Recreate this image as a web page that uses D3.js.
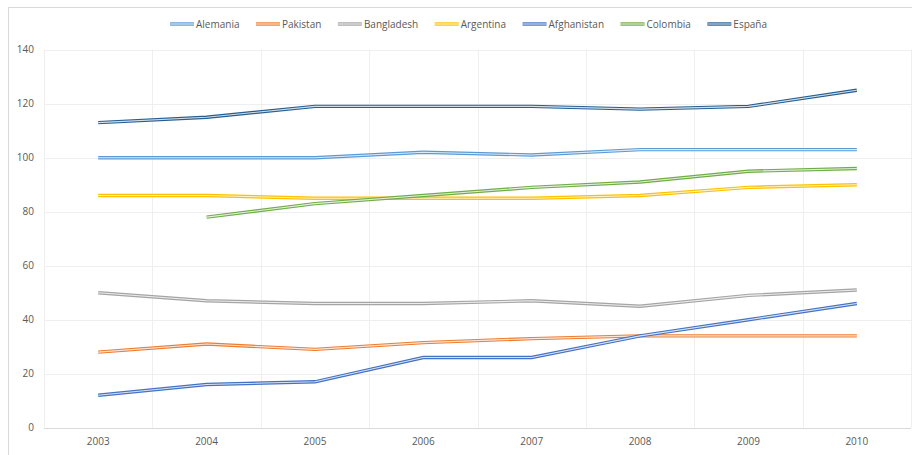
<!DOCTYPE html>
<html>
<head>
<meta charset="utf-8">
<script src="https://cdn.jsdelivr.net/npm/d3@7"></script>
<style>
  body { margin: 0; background: #fff; }
  text { font-family: "Open Sans", "Liberation Sans", sans-serif; fill: #595959; font-size: 10px; }
</style>
</head>
<body>
<script>
// data
let years = [2003, 2004, 2005, 2006, 2007, 2008, 2009, 2010];
let yTicks = [0, 20, 40, 60, 80, 100, 120, 140];
let seriesNames = ["Alemania", "Pakistan", "Bangladesh", "Argentina", "Afghanistan", "Colombia", "España"];
let colors = ["#5B9BD5", "#ED7D31", "#A5A5A5", "#FFC000", "#4472C4", "#70AD47", "#255E91"];

let alemania    = [100, 100, 100, 102, 101, 103, 103, 103];
let pakistan    = [28, 31, 29, 31.5, 33, 34, 34, 34];
let bangladesh  = [50, 47, 46, 46, 47, 45, 49, 51];
let argentina   = [86, 86, 85, 85, 85, 86, 89, 90];
let afghanistan = [12, 16, 17, 26, 26, 34, 40, 46];
let colombia    = [null, 78, 83, 86, 89, 91, 95, 96];
let espana      = [113, 115, 119, 119, 119, 118, 119, 125];

let seriesValues = [alemania, pakistan, bangladesh, argentina, afghanistan, colombia, espana];

let width = 912, height = 455;
let margin = {top: 49.7, right: 1, bottom: 27.3, left: 44};

let svg = d3.select("body").append("svg")
            .attr("width", width)
            .attr("height", height);

// outer chart border (cropped on right and bottom)
svg.append("rect")
   .attr("x", 8.5).attr("y", 7.5)
   .attr("width", 1000).attr("height", 1000)
   .attr("fill", "none")
   .attr("stroke", "#d9d9d9");

let x = d3.scalePoint()
          .domain(years)
          .range([margin.left, width - margin.right])
          .padding(0.5);

let y = d3.scaleLinear()
          .domain([0, 140])
          .range([height - margin.bottom, margin.top]);

let step = x.step();

// horizontal gridlines
svg.append("g")
   .selectAll("line")
   .data(yTicks.filter(d => d > 0))
   .join("line")
   .attr("x1", margin.left).attr("x2", width - margin.right)
   .attr("y1", d => Math.round(y(d)) + 0.5).attr("y2", d => Math.round(y(d)) + 0.5)
   .attr("stroke", "#efefef");

// vertical gridlines between categories
svg.append("g")
   .selectAll("line")
   .data(d3.range(years.length + 1))
   .join("line")
   .attr("x1", i => Math.round(margin.left + i * step) + 0.5)
   .attr("x2", i => Math.round(margin.left + i * step) + 0.5)
   .attr("y1", margin.top).attr("y2", y(0))
   .attr("stroke", "#efefef");

// bottom axis line
svg.append("line")
   .attr("x1", margin.left).attr("x2", width - margin.right)
   .attr("y1", Math.round(y(0)) + 0.5).attr("y2", Math.round(y(0)) + 0.5)
   .attr("stroke", "#d9d9d9");

// y tick labels
svg.append("g")
   .selectAll("text")
   .data(yTicks)
   .join("text")
   .attr("x", 34)
   .attr("y", d => y(d) + 3.5)
   .attr("text-anchor", "end")
   .text(d => d);

// x tick labels
svg.append("g")
   .selectAll("text")
   .data(years)
   .join("text")
   .attr("x", d => x(d))
   .attr("y", 445)
   .attr("text-anchor", "middle")
   .text(d => d);

let line = d3.line()
             .defined(d => d.v != null)
             .x(d => x(d.year))
             .y(d => y(d.v));

// double lines, like the compound line style
seriesNames.forEach(function(name, i) {
  let pts = years.map((yr, j) => ({year: yr, v: seriesValues[i][j]}));
  svg.append("path")
     .datum(pts)
     .attr("d", line)
     .attr("fill", "none")
     .attr("stroke", colors[i])
     .attr("stroke-width", 3.4);
  svg.append("path")
     .datum(pts)
     .attr("d", line)
     .attr("fill", "none")
     .attr("stroke", "#fff")
     .attr("stroke-opacity", 0.8)
     .attr("stroke-width", 1.1);
});

// legend
let legend = svg.append("g");
let lx = 170;
seriesNames.forEach(function(name, i) {
  let g = legend.append("g").attr("transform", `translate(${lx},24)`);
  g.append("line").attr("x1", 0).attr("x2", 24).attr("y1", 0).attr("y2", 0)
   .attr("stroke", colors[i]).attr("stroke-width", 3.4);
  g.append("line").attr("x1", 0).attr("x2", 24).attr("y1", 0).attr("y2", 0)
   .attr("stroke", "#fff").attr("stroke-opacity", 0.8).attr("stroke-width", 1.1);
  let t = g.append("text")
           .attr("x", 26).attr("y", 3.5)
           .text(name);
  lx += 26 + t.node().getComputedTextLength() + 16.5;
});
</script>
</body>
</html>
